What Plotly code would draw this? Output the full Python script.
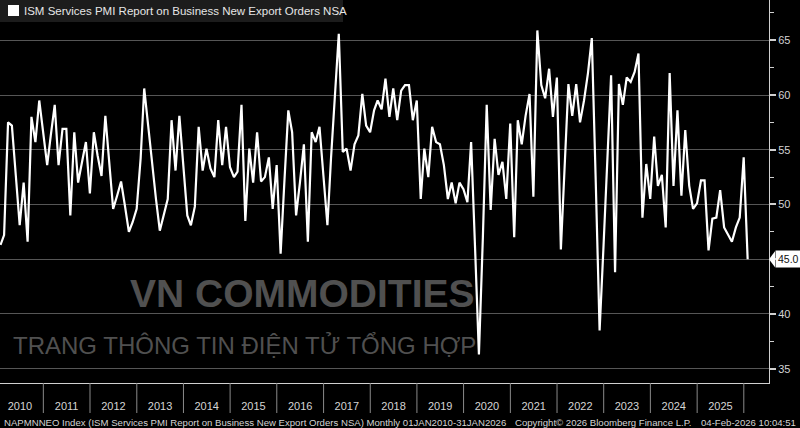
import pandas as pd
import plotly.graph_objects as go

# ---- data (monthly, Jan 2010 - Jan 2026) ----
v2010 = [46.3, 47.2, 57.5, 57.2, 52.6, 48.1, 52.0, 46.6, 58.0, 55.7, 59.5, 56.3]
v2011 = [53.6, 56.3, 59.1, 53.6, 56.9, 56.9, 49.0, 56.6, 52.0, 53.9, 55.7, 51.0]
v2012 = [56.6, 54.5, 52.6, 58.1, 53.9, 49.6, 50.8, 52.1, 49.9, 47.5, 48.4, 49.6]
v2013 = [54.2, 60.6, 57.2, 53.6, 50.5, 47.6, 49.0, 50.5, 57.7, 53.1, 58.1, 53.6]
v2014 = [49.0, 48.1, 49.8, 57.1, 53.1, 55.1, 53.3, 52.5, 57.7, 53.6, 57.1, 53.4]
v2015 = [52.5, 53.0, 59.1, 48.5, 55.1, 52.0, 56.6, 52.1, 52.5, 54.3, 49.6, 53.6]
v2016 = [45.5, 52.0, 58.6, 56.6, 49.0, 52.0, 55.5, 46.6, 56.6, 55.7, 57.1, 52.6]
v2017 = [48.1, 54.2, 60.6, 65.6, 54.8, 55.1, 53.1, 55.5, 56.3, 60.1, 57.2, 56.6]
v2018 = [58.6, 59.5, 58.7, 61.5, 58.0, 60.6, 57.7, 60.4, 60.9, 60.9, 57.7, 59.5]
v2019 = [50.5, 55.1, 52.5, 57.1, 55.7, 55.5, 53.6, 50.5, 52.0, 50.1, 52.0, 51.4]
v2020 = [50.2, 55.7, 46.0, 36.3, 47.0, 59.1, 49.5, 56.0, 52.7, 53.9, 50.5, 57.4]
v2021 = [47.0, 57.7, 55.5, 58.1, 60.1, 50.7, 65.9, 60.9, 59.7, 62.4, 58.0, 61.6]
v2022 = [45.9, 53.6, 61.0, 58.1, 61.0, 57.5, 59.5, 62.0, 65.2, 52.0, 38.5, 46.3]
v2023 = [54.2, 61.8, 43.8, 61.0, 59.1, 61.6, 61.2, 62.1, 63.8, 48.8, 53.7, 50.5]
v2024 = [56.2, 51.7, 52.7, 47.9, 62.0, 51.7, 58.6, 50.8, 56.8, 51.7, 49.6, 50.1]
v2025 = [52.2, 52.2, 45.8, 48.7, 48.8, 51.3, 47.9, 47.3, 46.6, 47.9, 48.8, 54.3]
v2026 = [45.0]

years = list(range(2010, 2026))
y_ticks = [35, 40, 45, 50, 55, 60, 65]
series_name = "ISM Services PMI Report on Business New Export Orders NSA"
footer_1 = "NAPMNNEO Index (ISM Services PMI Report on Business New Export Orders NSA) Monthly 01JAN2010-31JAN2026"
footer_2 = "Copyright\u00a9 2026 Bloomberg Finance L.P."
footer_3 = "04-Feb-2026 10:04:51"
wm_1 = "VN COMMODITIES"
wm_2 = "TRANG THÔNG TIN ĐIỆN TỬ TỔNG HỢP"

values = (v2010 + v2011 + v2012 + v2013 + v2014 + v2015 + v2016 + v2017 +
          v2018 + v2019 + v2020 + v2021 + v2022 + v2023 + v2024 + v2025 + v2026)
dates = pd.date_range("2010-01-31", periods=len(values), freq=pd.offsets.MonthEnd())
last = values[-1]

# ---- geometry ----
W, H = 800, 428
ML, MR, MT, MB = 0, 31, 0, 45
PW, PH = W - ML - MR, H - MT - MB
Y_RANGE = [33.69, 68.68]
FONT = "Liberation Sans, Arial, sans-serif"
TXT = "#d4d4d4"
WM = "rgba(160,160,160,0.5)"


def px(xp):
    return (xp - ML) / PW


def py(yp):
    return 1 - (yp - MT) / PH


fig = go.Figure()
fig.add_trace(go.Scatter(x=dates, y=values, mode="lines",
                         line=dict(color="white", width=2.2),
                         showlegend=False, hoverinfo="x+y"))

shapes = []
# year separators below the axis
for yr in years + [2026]:
    shapes.append(dict(type="line", xref="x", yref="paper",
                       x0=f"{yr}-01-01", x1=f"{yr}-01-01", y0=0, y1=py(413),
                       line=dict(color="#8a8a8a", width=1)))
# legend box
shapes.append(dict(type="rect", xref="paper", yref="paper",
                   x0=px(0), x1=px(343), y0=py(22), y1=py(0),
                   fillcolor="#1c1c1c", line=dict(width=0)))
shapes.append(dict(type="rect", xref="paper", yref="paper",
                   x0=px(8), x1=px(19), y0=py(16), y1=py(5),
                   fillcolor="white", line=dict(width=0)))
# last value tag tip
dy = 8 / (PH / (Y_RANGE[1] - Y_RANGE[0]))
shapes.append(dict(type="path", xref="paper", yref="y",
                   path=f"M {px(769)},{last} L {px(775)},{last + dy} L {px(775)},{last - dy} Z",
                   fillcolor="white", line=dict(width=0)))

annotations = [
    dict(text=series_name, xref="paper", yref="paper", x=px(22), y=py(11),
         xanchor="left", yanchor="middle", showarrow=False,
         font=dict(family=FONT, size=11.5, color="#e6e6e6")),
    dict(text=f"{last:.1f}", xref="paper", yref="y", x=px(774.5), y=last,
         xanchor="left", yanchor="middle", showarrow=False, bgcolor="white",
         borderpad=2, font=dict(family=FONT, size=10.5, color="#111111")),
    dict(text=footer_1, xref="paper", yref="paper", x=px(2), y=py(422),
         xanchor="left", yanchor="middle", showarrow=False,
         font=dict(family=FONT, size=9.6, color=TXT)),
    dict(text=footer_2, xref="paper", yref="paper", x=px(513), y=py(422),
         xanchor="left", yanchor="middle", showarrow=False,
         font=dict(family=FONT, size=9.6, color=TXT)),
    dict(text=footer_3, xref="paper", yref="paper", x=px(798), y=py(422),
         xanchor="right", yanchor="middle", showarrow=False,
         font=dict(family=FONT, size=9.6, color=TXT)),
    dict(text=f"<b>{wm_1}</b>", xref="paper", yref="paper", x=px(302), y=py(293),
         xanchor="center", yanchor="middle", showarrow=False,
         font=dict(family=FONT, size=39, color=WM)),
    dict(text=wm_2, xref="paper", yref="paper", x=px(244), y=py(345),
         xanchor="center", yanchor="middle", showarrow=False,
         font=dict(family=FONT, size=24, color=WM)),
]

fig.update_layout(
    width=W, height=H,
    margin=dict(l=ML, r=MR, t=MT, b=MB, pad=0),
    paper_bgcolor="black", plot_bgcolor="black",
    showlegend=False,
    shapes=shapes, annotations=annotations,
    xaxis=dict(type="date", range=["2010-01-27", "2026-07-17"],
               showgrid=False, zeroline=False, showline=True,
               linecolor="#d0d0d0", linewidth=1,
               tickvals=[f"{y}-07-02" for y in years],
               ticktext=[str(y) for y in years],
               ticks="outside", ticklen=13, tickcolor="rgba(0,0,0,0)",
               tickfont=dict(family=FONT, size=11, color=TXT)),
    yaxis=dict(side="right", range=Y_RANGE,
               tickvals=y_ticks,
               ticktext=["" if v == round(last) else str(v) for v in y_ticks],
               showgrid=True, gridcolor="#565656", gridwidth=1,
               zeroline=False, showline=True, linecolor="#d0d0d0", linewidth=1,
               ticks="outside", ticklen=6, tickwidth=2, tickcolor="#d0d0d0",
               minor=dict(dtick=2.5, tick0=0, ticks="outside", ticklen=4,
                          tickwidth=1, tickcolor="#d0d0d0", showgrid=False),
               tickfont=dict(family=FONT, size=11, color=TXT)),
)

fig.write_html("out.html")
